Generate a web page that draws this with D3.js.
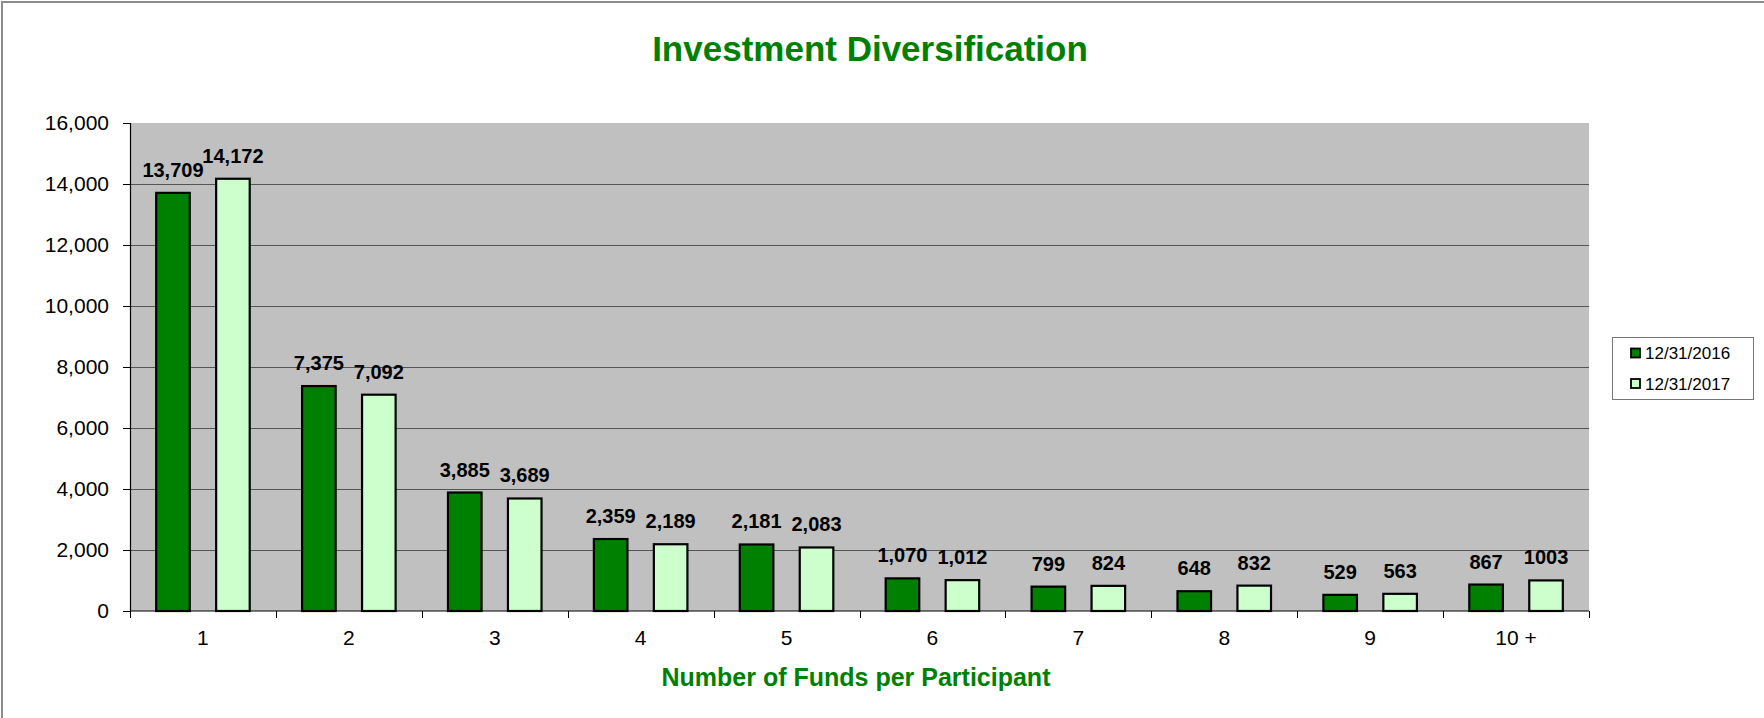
<!DOCTYPE html>
<html>
<head>
<meta charset="utf-8">
<script src="https://cdn.jsdelivr.net/npm/d3@7"></script>
<style>
  body { margin: 0; background: #fff; }
  text { font-family: Arial, "Liberation Sans", sans-serif; }
</style>
</head>
<body>
<div id="chart"></div>
<script>
var categories = ["1", "2", "3", "4", "5", "6", "7", "8", "9", "10 +"];
var seriesNames = ["12/31/2016", "12/31/2017"];
var values2016 = [13709, 7375, 3885, 2359, 2181, 1070, 799, 648, 529, 867];
var values2017 = [14172, 7092, 3689, 2189, 2083, 1012, 824, 832, 563, 1003];
var yTicks = [0, 2000, 4000, 6000, 8000, 10000, 12000, 14000, 16000];

var width = 1764, height = 718;
var plotLeft = 130, plotRight = 1589, plotTop = 123, plotBottom = 611;
var colors = ["#008000", "#CCFFCC"];

var svg = d3.select("#chart").append("svg")
  .attr("width", width)
  .attr("height", height);

// outer frame (only top and left edges show)
svg.append("rect")
  .attr("x", 2).attr("y", 2)
  .attr("width", width + 20).attr("height", height + 20)
  .attr("fill", "white")
  .attr("stroke", "#8c8c8c")
  .attr("stroke-width", 2);

var x0 = d3.scaleBand().domain(categories).range([plotLeft, plotRight]).padding(0);
var x1 = d3.scaleBand().domain(seriesNames).range([0, x0.bandwidth()])
  .paddingInner(0.4068).paddingOuter(0.42);
var y = d3.scaleLinear().domain([0, 16000]).range([plotBottom, plotTop]);

// plot background
svg.append("rect")
  .attr("x", plotLeft).attr("y", plotTop)
  .attr("width", plotRight - plotLeft).attr("height", plotBottom - plotTop)
  .attr("fill", "#C0C0C0");

// gridlines
svg.append("g").selectAll("line")
  .data(yTicks.filter(function(d){ return d > 0 && d < 16000; }))
  .enter().append("line")
  .attr("x1", plotLeft).attr("x2", plotRight)
  .attr("y1", function(d){ return Math.round(y(d)) + 0.5; })
  .attr("y2", function(d){ return Math.round(y(d)) + 0.5; })
  .attr("stroke", "#555")
  .attr("stroke-width", 1);

// y axis
var yAxis = svg.append("g")
  .attr("transform", "translate(" + plotLeft + ",0)")
  .call(d3.axisLeft(y).tickValues(yTicks).tickSize(7).tickPadding(14).tickFormat(d3.format(",")));
yAxis.select(".domain").attr("stroke", "#000").attr("stroke-width", 1.2);
yAxis.selectAll(".tick line").attr("stroke", "#000");
yAxis.selectAll("text").attr("font-size", "21px").attr("fill", "#000")
  .style("font-family", "Arial, 'Liberation Sans', sans-serif");

// x axis
var xAxis = svg.append("g")
  .attr("transform", "translate(0," + plotBottom + ")");
xAxis.append("line")
  .attr("x1", plotLeft).attr("x2", plotRight)
  .attr("y1", 0).attr("y2", 0)
  .attr("stroke", "#000").attr("stroke-width", 1.2);
var boundaries = categories.map(function(c){ return x0(c); }).concat([plotRight]);
xAxis.selectAll("line.tk").data(boundaries).enter().append("line")
  .attr("class", "tk")
  .attr("x1", function(d){ return Math.round(d) + 0.5; })
  .attr("x2", function(d){ return Math.round(d) + 0.5; })
  .attr("y1", 0).attr("y2", 7)
  .attr("stroke", "#000");
xAxis.selectAll("text").data(categories).enter().append("text")
  .attr("x", function(d){ return x0(d) + x0.bandwidth() / 2; })
  .attr("y", 34)
  .attr("text-anchor", "middle")
  .attr("font-size", "21px")
  .text(function(d){ return d; });

// bars
var seriesValues = [values2016, values2017];
seriesValues.forEach(function(vals, s) {
  var g = svg.append("g");
  g.selectAll("rect").data(vals).enter().append("rect")
    .attr("x", function(d, i){ return x0(categories[i]) + x1(seriesNames[s]) + 1; })
    .attr("y", function(d){ return y(d); })
    .attr("width", x1.bandwidth() - 2)
    .attr("height", function(d){ return y(0) - y(d); })
    .attr("fill", colors[s])
    .attr("stroke", "#000")
    .attr("stroke-width", 2.2);
  g.selectAll("text").data(vals).enter().append("text")
    .attr("x", function(d, i){ return x0(categories[i]) + x1(seriesNames[s]) + x1.bandwidth() / 2; })
    .attr("y", function(d){ return y(d) - 16; })
    .attr("text-anchor", "middle")
    .attr("font-size", "20px")
    .attr("font-weight", "bold")
    .text(function(d, i){ return i === categories.length - 1 ? d3.format("d")(d) : d3.format(",")(d); });
});

// title
svg.append("text")
  .attr("x", 870).attr("y", 61)
  .attr("text-anchor", "middle")
  .attr("font-size", "35px")
  .attr("font-weight", "bold")
  .attr("fill", "#008000")
  .text("Investment Diversification");

// x axis title
svg.append("text")
  .attr("x", 856).attr("y", 686)
  .attr("text-anchor", "middle")
  .attr("font-size", "25px")
  .attr("font-weight", "bold")
  .attr("fill", "#008000")
  .text("Number of Funds per Participant");

// legend
var legend = svg.append("g");
legend.append("rect")
  .attr("x", 1612.5).attr("y", 337.5)
  .attr("width", 141).attr("height", 62)
  .attr("fill", "white")
  .attr("stroke", "#777")
  .attr("stroke-width", 1);
seriesNames.forEach(function(name, i) {
  var cy = 353 + i * 30.5;
  legend.append("rect")
    .attr("x", 1631).attr("y", cy - 4.5)
    .attr("width", 9).attr("height", 9)
    .attr("fill", colors[i])
    .attr("stroke", "#000")
    .attr("stroke-width", 1.8);
  legend.append("text")
    .attr("x", 1645).attr("y", cy + 6)
    .attr("font-size", "17px")
    .text(name);
});
</script>
</body>
</html>
